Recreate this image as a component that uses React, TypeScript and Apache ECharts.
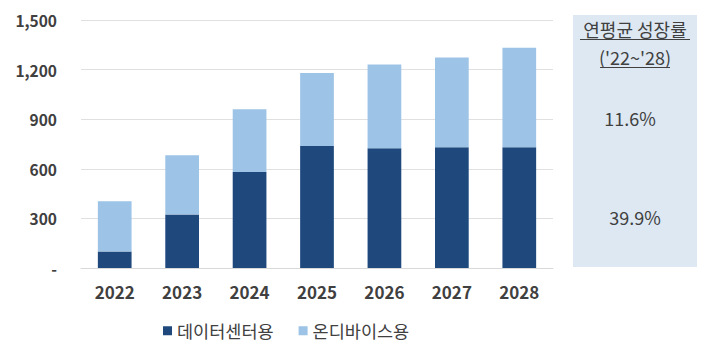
import React, { useEffect, useRef } from "react";
import * as echarts from "echarts";

const years = ["2022", "2023", "2024", "2025", "2026", "2027", "2028"];
const dataCenter = [100, 324, 580, 738, 725, 731, 731];
const onDevice = [303, 358, 380, 441, 506, 542, 601];
const seriesNames = ["데이터센터용", "온디바이스용"];
const panelTitle = ["연평균 성장률", "('22~'28)"];
const cagrLabels = ["11.6%", "39.9%"];

const FONT = "'Noto Sans CJK KR', 'Noto Sans', sans-serif";
const TXT = "#404040";

export default function App() {
  const ref = useRef<HTMLDivElement>(null);
  useEffect(() => {
    document.body.style.margin = "0";
    if (!ref.current) return;
    const chart = echarts.init(ref.current, null, { renderer: "svg" });
    chart.setOption({
      animation: false,
      textStyle: { fontFamily: FONT },
      grid: { left: 81, right: 163, top: 20, bottom: 84 },
      legend: {
        data: seriesNames,
        left: 158,
        top: 317,
        itemWidth: 9,
        itemHeight: 9,
        itemGap: 25,
        icon: "rect",
        textStyle: { fontSize: 17.5, color: TXT, fontFamily: FONT },
      },
      xAxis: {
        type: "category",
        data: years,
        axisTick: { show: false },
        axisLine: { lineStyle: { color: "#d9d9d9" } },
        axisLabel: { fontSize: 17, fontWeight: "bold", color: TXT, margin: 15, fontFamily: FONT },
      },
      yAxis: {
        type: "value",
        min: 0,
        max: 1500,
        interval: 300,
        axisLabel: {
          fontSize: 15.5,
          fontWeight: "bold",
          color: TXT,
          margin: 24,
          fontFamily: FONT,
          formatter: (v: number) => (v === 0 ? "-" : v.toLocaleString("en-US")),
        },
        splitLine: { lineStyle: { color: "#e0e0e0" } },
      },
      series: [
        {
          name: seriesNames[0],
          type: "bar",
          stack: "total",
          barWidth: "50%",
          itemStyle: { color: "#1f497d" },
          data: dataCenter,
        },
        {
          name: seriesNames[1],
          type: "bar",
          stack: "total",
          barWidth: "50%",
          itemStyle: { color: "#9dc3e6" },
          data: onDevice,
        },
      ],
      graphic: [
        { type: "rect", shape: { x: 573, y: 15, width: 124, height: 252 }, style: { fill: "#dde8f3" } },
        {
          type: "text",
          x: 635,
          y: 29,
          style: { text: panelTitle[0], fill: TXT, font: `18px ${FONT}`, textAlign: "center", textVerticalAlign: "middle" },
        },
        { type: "line", shape: { x1: 580, y1: 39.5, x2: 690, y2: 39.5 }, style: { stroke: TXT, lineWidth: 1.2 } },
        {
          type: "text",
          x: 635,
          y: 57,
          style: { text: panelTitle[1], fill: TXT, font: `18px ${FONT}`, textAlign: "center", textVerticalAlign: "middle" },
        },
        { type: "line", shape: { x1: 600, y1: 67.5, x2: 670, y2: 67.5 }, style: { stroke: TXT, lineWidth: 1.2 } },
        {
          type: "text",
          x: 630,
          y: 118,
          style: { text: cagrLabels[0], fill: TXT, font: `18px ${FONT}`, textAlign: "center", textVerticalAlign: "middle" },
        },
        {
          type: "text",
          x: 635,
          y: 217,
          style: { text: cagrLabels[1], fill: TXT, font: `18px ${FONT}`, textAlign: "center", textVerticalAlign: "middle" },
        },
      ],
    });
    return () => chart.dispose();
  }, []);
  return <div ref={ref} style={{ width: 716, height: 352 }} />;
}
